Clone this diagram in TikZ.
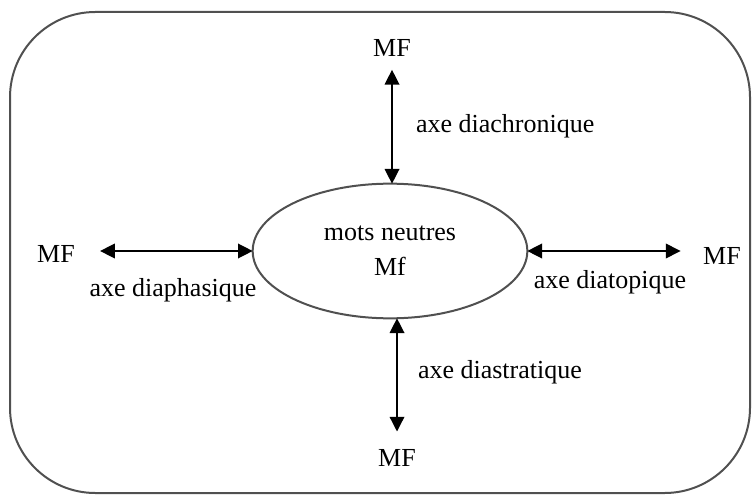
\documentclass[tikz,border=0pt]{standalone}
\usepackage{fontspec}
\setmainfont{Liberation Serif}
\usetikzlibrary{arrows.meta, shapes.geometric, positioning}
\definecolor{frameborder}{HTML}{505050}

\begin{document}
\begin{tikzpicture}[x=0.75pt, y=-0.75pt, >={Triangle[length=11pt, width=11pt]},
    every node/.style={font=\fontsize{19.5}{26.25}\selectfont, inner sep=0pt, outer sep=0pt},
    axis/.style={<->, line width=1pt, black}]
      \useasboundingbox (0,0) rectangle (755,495);
      \draw[frameborder, line width=1.5pt, rounded corners=64pt]
        (10,12) rectangle (750,493);

      \node[ellipse, draw=frameborder, line width=1.5pt, align=center,
        minimum width=206pt, minimum height=101pt] (mots) at (390,251)
        {mots neutres\\Mf};

      \node (mfN) at (392,48) {MF};
      \node (mfS) at (397,458) {MF};
      \node (mfW) at (56,254) {MF};
      \node (mfE) at (722,256) {MF};

      \draw[axis, shorten <=10pt] (mfN) -- (mfN |- mots.north);
      \draw[axis, shorten <=13.5pt] (mfS) -- (mfS |- mots.south);
      \draw[axis, shorten <=19pt] (mfW.east |- mots.west) -- (mots.west);
      \draw[axis, shorten <=17pt] (mfE.west |- mots.east) -- (mots.east);

      \node[anchor=base west] (diachro) at (416,133) {axe diachronique};
      \node[anchor=base west] (diastra) at (418,378) {axe diastratique};
      \node[anchor=base] (diapha) at (173,296) {axe diaphasique};
      \node[anchor=base] (diatopi) at (610,288) {axe diatopique};
    \end{tikzpicture}
\end{document}
